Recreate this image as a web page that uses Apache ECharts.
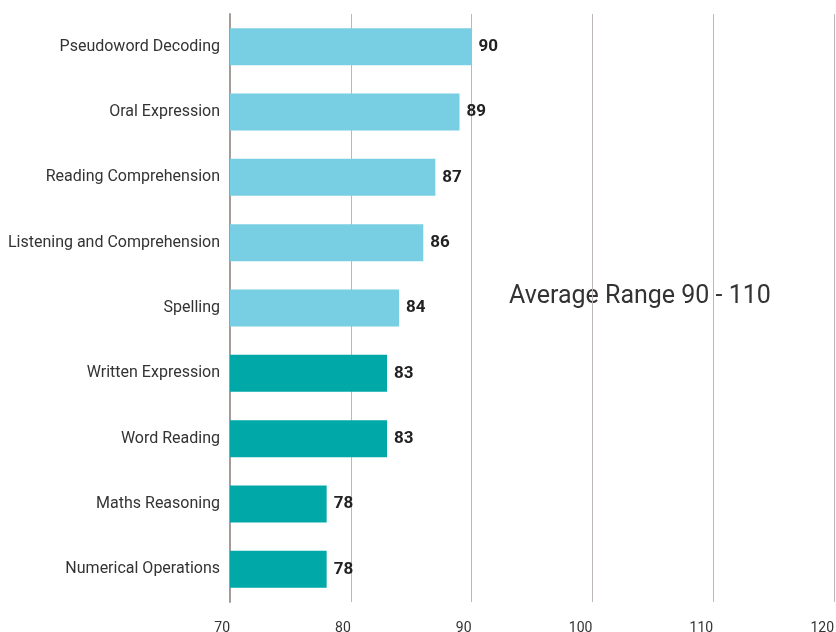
<!DOCTYPE html>
<html>
<head>
<meta charset="utf-8">
<script src="https://cdn.jsdelivr.net/npm/echarts@6/dist/echarts.min.js"></script>
<style>
  html, body { margin: 0; padding: 0; background: #fff; }
  #chart { width: 836px; height: 632px; }
</style>
</head>
<body>
<div id="chart"></div>
<script>
// data, top to bottom as shown
const categories = [
  'Pseudoword Decoding',
  'Oral Expression',
  'Reading Comprehension',
  'Listening and Comprehension',
  'Spelling',
  'Written Expression',
  'Word Reading',
  'Maths Reasoning',
  'Numerical Operations'
]
const scores = [90, 89, 87, 86, 84, 83, 83, 78, 78]
// first five light blue, rest teal
const groups = ['light', 'light', 'light', 'light', 'light', 'dark', 'dark', 'dark', 'dark']
const xTicks = [70, 80, 90, 100, 110, 120]
const noteText = 'Average Range 90 - 110'

const colors = { light: '#78cfe3', dark: '#00a8a7' }
const font = 'Roboto, "Noto Sans", sans-serif'

const myChart = echarts.init(document.getElementById('chart'))

const option = {
  animation: false,
  grid: {
    left: 230,
    right: 2,
    top: 14,
    bottom: 30,
    containLabel: false,
    outerBoundsMode: 'none'
  },
  xAxis: {
    type: 'value',
    min: xTicks[0],
    max: xTicks[xTicks.length - 1],
    interval: 10,
    axisLine: { show: false },
    axisTick: { show: false },
    // tick labels sit just left of their gridline
    axisLabel: {
      color: '#333',
      fontSize: 14,
      fontFamily: font,
      margin: 19,
      align: 'right',
      showMaxLabel: true
    },
    splitLine: {
      lineStyle: { color: '#bdb8b6', width: 1 }
    }
  },
  yAxis: {
    type: 'category',
    inverse: true,
    data: categories,
    axisLine: {
      lineStyle: { color: '#a39c99', width: 2 }
    },
    axisTick: { show: false },
    axisLabel: {
      color: '#333',
      fontSize: 16,
      fontFamily: font,
      margin: 10
    }
  },
  series: [
    {
      type: 'bar',
      barWidth: 37,
      data: scores.map((v, i) => ({
        value: v,
        itemStyle: { color: colors[groups[i]] }
      })),
      label: {
        show: true,
        position: 'right',
        distance: 7,
        color: '#222',
        fontSize: 17,
        fontWeight: 'bold',
        fontFamily: font
      }
    }
  ],
  // note text, drawn under the gridlines like the original
  graphic: [
    {
      type: 'text',
      z: -1,
      left: 509,
      top: 284,
      style: {
        text: noteText,
        fill: '#333',
        fontSize: 25,
        fontFamily: font
      }
    }
  ]
}

myChart.setOption(option)
window.addEventListener('resize', function () {
  myChart.resize()
})
</script>
</body>
</html>
